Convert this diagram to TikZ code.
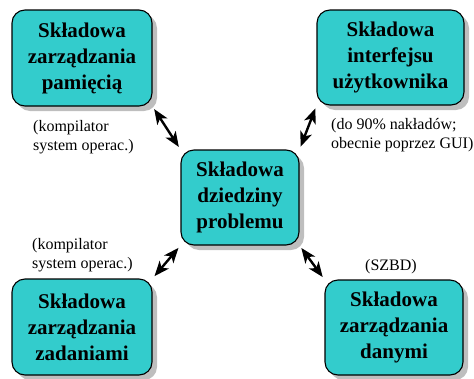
\documentclass[tikz,border=0pt]{standalone}
\usepackage{fontspec}
\setmainfont{Liberation Serif}
\usetikzlibrary{arrows.meta,shadows}
\begin{document}
\begin{tikzpicture}[x=1pt,y=-1pt,
  comp/.style={draw=black, line width=1.1pt, fill=boxcyan, rounded corners=13pt,
    inner sep=0pt, align=center,
    font=\fontsize{21}{26}\selectfont\bfseries,
    drop shadow={shadow xshift=5pt, shadow yshift=-5pt, fill=shadowgray, opacity=1}},
  note/.style={inner sep=0pt, align=left, font=\fontsize{16}{19}\selectfont},
  link/.style={line width=2.4pt,
    {Stealth[length=15pt,width=12pt,inset=4pt]}-{Stealth[length=15pt,width=12pt,inset=4pt]},
    shorten <=3pt, shorten >=3pt}]
\definecolor{boxcyan}{RGB}{51,204,204}
\definecolor{shadowgray}{RGB}{190,190,190}
\useasboundingbox (0,0) rectangle (474,378);

% component boxes
\node[comp, minimum width=140pt, minimum height=96pt] (mem) at (82,58)
  {Składowa\\zarządzania\\pamięcią};
\node[comp, minimum width=147pt, minimum height=95pt] (ui) at (390.5,57.5)
  {Składowa\\interfejsu\\użytkownika};
\node[comp, minimum width=118pt, minimum height=95pt] (core) at (240,197.5)
  {Składowa\\dziedziny\\problemu};
\node[comp, minimum width=140pt, minimum height=96pt] (task) at (82,327)
  {Składowa\\zarządzania\\zadaniami};
\node[comp, minimum width=138pt, minimum height=95pt] (data) at (394,327.5)
  {Składowa\\zarządzania\\danymi};

% annotations
\node[note, anchor=north west] (nmem) at (33,120) {(kompilator\\system operac.)};
\node[note, anchor=north west] (nui) at (331,118) {(do 90\% nakładów;\\obecnie poprzez GUI)};
\node[note, anchor=north west] (ntask) at (32,238) {(kompilator\\system operac.)};
\node[note, anchor=north] (ndata) at (391,259) {(SZBD)};

% connectors
\draw[link] (mem.south east) -- (core.north west);
\draw[link] (ui.south west) -- (core.north east);
\draw[link] (task.north east) -- (core.south west);
\draw[link] (data.north west) -- (core.south east);
\end{tikzpicture}
\end{document}
